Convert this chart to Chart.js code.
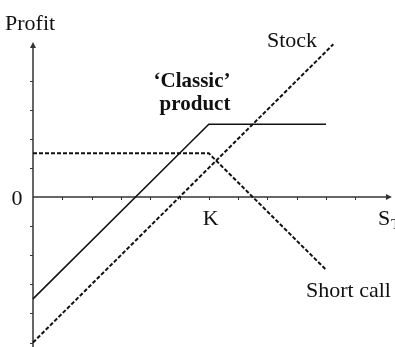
<!DOCTYPE html>
<html>
<head>
<meta charset="utf-8">
<script src="https://cdn.jsdelivr.net/npm/chart.js@4/dist/chart.umd.min.js"></script>
<style>
html,body{margin:0;padding:0;background:#fff;}
#wrap{position:relative;width:395px;height:347px;}
</style>
</head>
<body>
<div id="wrap"><canvas id="c" width="395" height="347"></canvas></div>
<script>
// Payoff data (x = S_T in units, K = 6)
const stockX = [0, 10.25];
const stockY = [-5, 5.25];
const classicX = [0, 6, 10];
const classicY = [-3.5, 2.5, 2.5];
const shortCallX = [0, 6, 10];
const shortCallY = [1.5, 1.5, -2.5];
const xTicks = [1, 2, 3, 4, 5, 6, 7, 8, 9, 10, 11];
const yTicks = [-5, -4, -3, -2, -1, 1, 2, 3, 4];
const strikeK = 6;
const xAxisEnd = 12.25;
const yAxisTop = 5.33;

function pts(xs, ys) { return xs.map((x, i) => ({x: x, y: ys[i]})); }

const serif = '"Liberation Serif", "Times New Roman", serif';

const axesPlugin = {
  id: 'axesPlugin',
  beforeDatasetsDraw(chart) {
    const ctx = chart.ctx;
    const xs = chart.scales.x, ys = chart.scales.y;
    const x0 = xs.getPixelForValue(0), y0 = ys.getPixelForValue(0);
    const xEnd = xs.getPixelForValue(xAxisEnd);
    const yTop = ys.getPixelForValue(yAxisTop);
    ctx.save();
    ctx.strokeStyle = '#333';
    ctx.fillStyle = '#333';
    ctx.lineWidth = 1.5;
    // x axis
    ctx.beginPath();
    ctx.moveTo(x0, y0); ctx.lineTo(xEnd - 3, y0); ctx.stroke();
    ctx.beginPath();
    ctx.moveTo(xEnd, y0); ctx.lineTo(xEnd - 6, y0 - 3); ctx.lineTo(xEnd - 6, y0 + 3); ctx.closePath(); ctx.fill();
    // y axis
    ctx.beginPath();
    ctx.moveTo(x0, chart.height); ctx.lineTo(x0, yTop + 3); ctx.stroke();
    ctx.beginPath();
    ctx.moveTo(x0, yTop); ctx.lineTo(x0 - 3, yTop + 6); ctx.lineTo(x0 + 3, yTop + 6); ctx.closePath(); ctx.fill();
    // ticks
    ctx.lineWidth = 1;
    xTicks.forEach(v => {
      const p = Math.round(xs.getPixelForValue(v)) + 0.5;
      ctx.beginPath(); ctx.moveTo(p, y0); ctx.lineTo(p, y0 + 3); ctx.stroke();
    });
    yTicks.forEach(v => {
      const p = Math.round(ys.getPixelForValue(v)) + 0.5;
      ctx.beginPath(); ctx.moveTo(x0, p); ctx.lineTo(x0 - 3, p); ctx.stroke();
    });
    ctx.restore();
  },
  afterDraw(chart) {
    const ctx = chart.ctx;
    const xs = chart.scales.x, ys = chart.scales.y;
    ctx.save();
    ctx.fillStyle = '#111';
    ctx.textBaseline = 'alphabetic';
    ctx.font = '22px ' + serif;
    ctx.textAlign = 'left';
    ctx.fillText('Profit', 5, 30);
    ctx.fillText('Stock', 267, 47);
    ctx.fillText('Short call', 306, 297);
    ctx.textAlign = 'center';
    ctx.fillText('0', 17, ys.getPixelForValue(0) + 8);
    ctx.fillText('K', xs.getPixelForValue(strikeK) + 2, 225);
    ctx.textAlign = 'left';
    ctx.fillText('S', 378, 225);
    ctx.font = '15px ' + serif;
    ctx.fillText('T', 391, 229);
    ctx.textAlign = 'center';
    ctx.font = 'bold 21px ' + serif;
    ctx.fillText('\u2018Classic\u2019', 192, 87);
    ctx.fillText('product', 195, 110);
    ctx.restore();
  }
};

new Chart(document.getElementById('c'), {
  type: 'scatter',
  data: {
    datasets: [
      { label: 'Stock', data: pts(stockX, stockY), showLine: true, borderColor: '#111', borderWidth: 2, borderDash: [4, 2], pointRadius: 0, fill: false },
      { label: "'Classic' product", data: pts(classicX, classicY), showLine: true, borderColor: '#111', borderWidth: 1.5, pointRadius: 0, fill: false },
      { label: 'Short call', data: pts(shortCallX, shortCallY), showLine: true, borderColor: '#111', borderWidth: 2, borderDash: [4, 2], pointRadius: 0, fill: false }
    ]
  },
  options: {
    responsive: false,
    animation: false,
    layout: { padding: 0 },
    plugins: { legend: { display: false }, tooltip: { enabled: false } },
    scales: {
      x: { type: 'linear', display: false, min: -33 / 29.3, max: 362 / 29.3 },
      y: { type: 'linear', display: false, min: -150 / 29.1, max: 197 / 29.1 }
    }
  },
  plugins: [axesPlugin]
});
</script>
</body>
</html>
